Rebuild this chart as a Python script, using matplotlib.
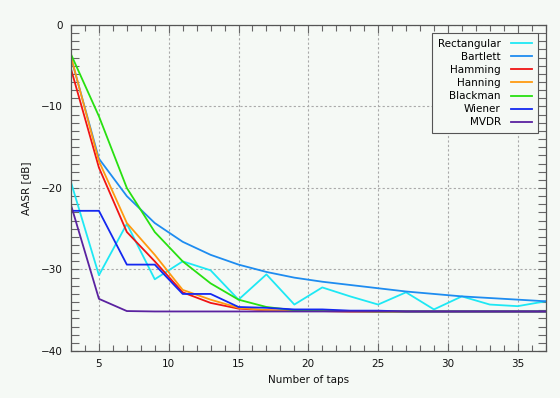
import matplotlib
matplotlib.use("Agg")
import matplotlib.pyplot as plt
from matplotlib.ticker import MultipleLocator

taps = [3, 5, 7, 9, 11, 13, 15, 17, 19, 21, 23, 25, 27, 29, 31, 33, 35, 37]

rectangular = [-19.3, -30.7, -24.4, -31.2, -29.0, -30.1, -33.7, -30.6, -34.3, -32.2,
               -33.3, -34.3, -32.8, -34.9, -33.3, -34.3, -34.5, -33.9]
bartlett = [-4.0, -16.4, -21.0, -24.3, -26.6, -28.2, -29.4, -30.3, -31.0, -31.5,
            -31.9, -32.3, -32.7, -33.0, -33.3, -33.5, -33.7, -33.9]
hamming = [-5.4, -17.5, -25.4, -29.0, -32.8, -34.1, -34.8, -35.0, -35.1, -35.1,
           -35.15, -35.15, -35.15, -35.15, -35.15, -35.15, -35.15, -35.15]
hanning = [-3.9, -16.7, -24.3, -28.2, -32.5, -33.7, -34.7, -35.0, -35.1, -35.1,
           -35.15, -35.15, -35.15, -35.15, -35.15, -35.15, -35.15, -35.15]
blackman = [-3.6, -11.2, -20.0, -25.4, -29.0, -31.7, -33.7, -34.6, -35.0, -35.1,
            -35.1, -35.15, -35.15, -35.15, -35.15, -35.15, -35.15, -35.15]
wiener = [-22.8, -22.8, -29.4, -29.4, -33.0, -33.0, -34.6, -34.7, -34.9, -34.9,
          -35.05, -35.05, -35.15, -35.15, -35.15, -35.15, -35.15, -35.15]
mvdr = [-22.1, -33.6, -35.1, -35.15, -35.15, -35.15, -35.15, -35.15, -35.15, -35.15,
        -35.15, -35.15, -35.15, -35.15, -35.15, -35.15, -35.15, -35.15]

series_names = ["Rectangular", "Bartlett", "Hamming", "Hanning", "Blackman", "Wiener", "MVDR"]
series_values = [rectangular, bartlett, hamming, hanning, blackman, wiener, mvdr]
series_colors = ["#1ee8f4", "#1e8cf0", "#f01414", "#ff9a10", "#28e010", "#1428f0", "#5a22a0"]

bg = "#f5f9f5"
fig = plt.figure(figsize=(5.6, 3.98), dpi=100, facecolor=bg)
ax = fig.add_axes([0.1268, 0.1181, 0.8475, 0.8191], facecolor=bg)

for name, vals, col in zip(series_names, series_values, series_colors):
    ax.plot(taps, vals, color=col, lw=1.3, label=name)

ax.set_xlim(3, 37)
ax.set_ylim(-40, 0)
ax.xaxis.set_major_locator(MultipleLocator(5))
ax.xaxis.set_minor_locator(MultipleLocator(1))
ax.yaxis.set_major_locator(MultipleLocator(10))
ax.yaxis.set_minor_locator(MultipleLocator(1))
ax.grid(True, which="major", color="#aaaaaa", linestyle=(0, (2, 2)), lw=0.8)

ax.tick_params(which="both", direction="in", top=True, right=True,
               color="#666666", labelsize=7.5, labelcolor="#111111", pad=6)
ax.tick_params(which="major", length=6, width=0.8)
ax.tick_params(which="minor", axis="y", length=5.5, width=0.8)
ax.tick_params(which="minor", axis="x", length=4, width=0.8)
for s in ax.spines.values():
    s.set_color("#555555")
    s.set_linewidth(0.9)

ax.set_xlabel("Number of taps", fontsize=7.5, color="#111111", labelpad=4)
ax.set_ylabel("AASR [dB]", fontsize=7.5, color="#111111", labelpad=7)

leg = ax.legend(loc="upper right", bbox_to_anchor=(0.99, 0.985), markerfirst=False,
                fontsize=7.5, frameon=True, fancybox=False, handlelength=2.0,
                handletextpad=1.0, borderpad=0.55, labelspacing=0.3, borderaxespad=0.3)
leg.get_frame().set_edgecolor("#555555")
leg.get_frame().set_facecolor(bg)
leg.get_frame().set_alpha(1)
leg.get_frame().set_linewidth(0.8)

fig.savefig("out.png", dpi=100, facecolor=bg)
